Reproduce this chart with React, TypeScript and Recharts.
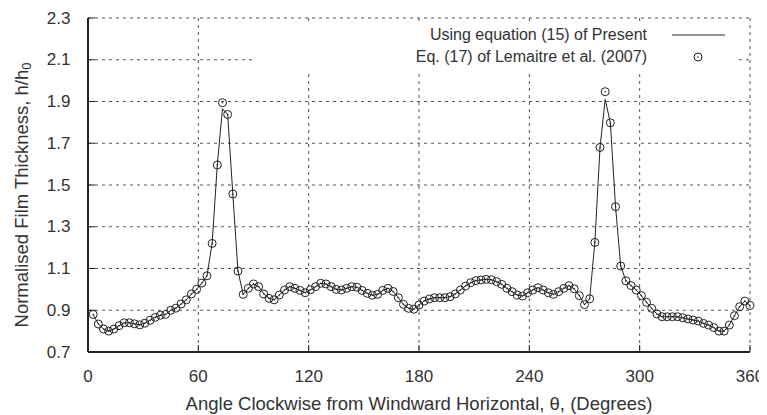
import {
  ComposedChart,
  Line,
  Scatter,
  XAxis,
  YAxis,
  CartesianGrid,
  Legend,
  Label,
} from 'recharts';

// angle positions (degrees) shared by both series
const angles = [
  2.81, 5.63, 8.44, 11.25, 14.06, 16.88, 19.69, 22.5, 25.31, 28.13, 30.94, 33.75, 36.56, 39.38, 42.19, 45,
  47.81, 50.63, 53.44, 56.25, 59.06, 61.88, 64.69, 67.5, 70.31, 73.13, 75.94, 78.75, 81.56, 84.38, 87.19, 90,
  92.81, 95.63, 98.44, 101.25, 104.06, 106.88, 109.69, 112.5, 115.31, 118.13, 120.94, 123.75, 126.56, 129.38, 132.19, 135,
  137.81, 140.63, 143.44, 146.25, 149.06, 151.88, 154.69, 157.5, 160.31, 163.13, 165.94, 168.75, 171.56, 174.38, 177.19, 180,
  182.81, 185.63, 188.44, 191.25, 194.06, 196.88, 199.69, 202.5, 205.31, 208.13, 210.94, 213.75, 216.56, 219.38, 222.19, 225,
  227.81, 230.63, 233.44, 236.25, 239.06, 241.88, 244.69, 247.5, 250.31, 253.13, 255.94, 258.75, 261.56, 264.38, 267.19, 270,
  272.81, 275.63, 278.44, 281.25, 284.06, 286.88, 289.69, 292.5, 295.31, 298.13, 300.94, 303.75, 306.56, 309.38, 312.19, 315,
  317.81, 320.63, 323.44, 326.25, 329.06, 331.88, 334.69, 337.5, 340.31, 343.13, 345.94, 348.75, 351.56, 354.38, 357.19, 360,
];

// Eq. (15), present work (solid line)
const eq15Values = [
  0.88, 0.834, 0.81, 0.8, 0.81, 0.826, 0.84, 0.84, 0.835, 0.83, 0.838, 0.852, 0.866, 0.876, 0.88, 0.9,
  0.91, 0.93, 0.95, 0.978, 1.0, 1.03, 1.065, 1.22, 1.596, 1.865, 1.838, 1.457, 1.088, 0.976, 1.005, 1.026,
  1.013, 0.978, 0.957, 0.95, 0.973, 0.997, 1.013, 1.005, 0.995, 0.984, 0.998, 1.013, 1.029, 1.026, 1.013, 1.0,
  0.997, 1.005, 1.013, 1.01, 0.995, 0.981, 0.972, 0.976, 0.995, 1.005, 0.99, 0.96, 0.928, 0.909, 0.905, 0.925,
  0.944, 0.954, 0.96, 0.96, 0.96, 0.965, 0.978, 0.997, 1.016, 1.032, 1.042, 1.045, 1.048, 1.046, 1.037, 1.024,
  1.005, 0.989, 0.973, 0.968, 0.984, 0.997, 1.008, 0.997, 0.984, 0.976, 0.989, 1.005, 1.018, 1.003, 0.97, 0.927,
  0.955, 1.225, 1.68, 1.91, 1.798, 1.396, 1.112, 1.041, 1.018, 0.997, 0.97, 0.938, 0.909, 0.882, 0.869, 0.869,
  0.869, 0.869, 0.864, 0.858, 0.853, 0.848, 0.837, 0.829, 0.817, 0.8, 0.8, 0.829, 0.874, 0.917, 0.944, 0.923,
];

// Eq. (17), Lemaitre et al. (2007) (circles)
const eq17Values = [
  0.88, 0.834, 0.81, 0.8, 0.81, 0.826, 0.84, 0.84, 0.835, 0.83, 0.838, 0.852, 0.866, 0.876, 0.88, 0.9,
  0.91, 0.93, 0.95, 0.978, 1.0, 1.03, 1.065, 1.22, 1.596, 1.894, 1.838, 1.457, 1.088, 0.976, 1.005, 1.026,
  1.013, 0.978, 0.957, 0.95, 0.973, 0.997, 1.013, 1.005, 0.995, 0.984, 0.998, 1.013, 1.029, 1.026, 1.013, 1.0,
  0.997, 1.005, 1.013, 1.01, 0.995, 0.981, 0.972, 0.976, 0.995, 1.005, 0.99, 0.96, 0.928, 0.909, 0.905, 0.925,
  0.944, 0.954, 0.96, 0.96, 0.96, 0.965, 0.978, 0.997, 1.016, 1.032, 1.042, 1.045, 1.048, 1.046, 1.037, 1.024,
  1.005, 0.989, 0.973, 0.968, 0.984, 0.997, 1.008, 0.997, 0.984, 0.976, 0.989, 1.005, 1.018, 1.003, 0.97, 0.927,
  0.955, 1.225, 1.68, 1.947, 1.798, 1.396, 1.112, 1.041, 1.018, 0.997, 0.97, 0.938, 0.909, 0.882, 0.869, 0.869,
  0.869, 0.869, 0.864, 0.858, 0.853, 0.848, 0.837, 0.829, 0.817, 0.8, 0.8, 0.829, 0.874, 0.917, 0.944, 0.923,
];

const xTicks = [0, 60, 120, 180, 240, 300, 360];
const yTicks = [0.7, 0.9, 1.1, 1.3, 1.5, 1.7, 1.9, 2.1, 2.3];

const xTitle = 'Angle Clockwise from Windward Horizontal, \u03b8, (Degrees)';
const yTitle = 'Normalised Film Thickness, h/h';
const seriesNames = ['Using equation (15) of Present', 'Eq. (17) of Lemaitre et al. (2007)'];

const lineData = angles.map((angle, i) => ({ angle, h: eq15Values[i] }));
const pointData = angles.map((angle, i) => ({ angle, h: eq17Values[i] }));

const FONT = '"Liberation Sans", Arial, Helvetica, sans-serif';
const INK = '#222';
const TEXT = '#333';
const TICK_LEN = 7;

function LeftTick({ x, y, payload }: any) {
  const gap = 18;
  return (
    <g>
      <line x1={x + gap} x2={x + gap + TICK_LEN} y1={y} y2={y} stroke={INK} />
      <text x={x + 0.5} y={y} textAnchor="end" dominantBaseline="central" fontSize={17} fontFamily={FONT} fill={TEXT}>
        {Number(payload.value).toFixed(1)}
      </text>
    </g>
  );
}

function BottomTick({ x, y, payload }: any) {
  const gap = 24;
  return (
    <g>
      <line x1={x} x2={x} y1={y - gap} y2={y - gap - TICK_LEN} stroke={INK} />
      <text x={x} y={y} textAnchor="middle" dominantBaseline="central" fontSize={17} fontFamily={FONT} fill={TEXT}>
        {payload.value}
      </text>
    </g>
  );
}

function TopTick({ x, y }: any) {
  return <line x1={x} x2={x} y1={y} y2={y + TICK_LEN} stroke={INK} />;
}

function RightTick({ x, y }: any) {
  return <line x1={x} x2={x - TICK_LEN} y1={y} y2={y} stroke={INK} />;
}

function XTitle({ viewBox }: any) {
  const { x, y, width } = viewBox;
  return (
    <text x={x + width / 2} y={y + 51} textAnchor="middle" dominantBaseline="central" fontSize={18.5} fontFamily={FONT} fill={TEXT}>
      {xTitle}
    </text>
  );
}

function YTitle({ viewBox }: any) {
  const { x, y, height } = viewBox;
  const cx = x + 13;
  const cy = y + height / 2 + 10;
  return (
    <text
      transform={`translate(${cx}, ${cy}) rotate(-90)`}
      textAnchor="middle"
      dominantBaseline="central"
      fontSize={18.5}
      fontFamily={FONT}
      fill={TEXT}
    >
      {yTitle}
      <tspan dy={5} fontSize={13}>0</tspan>
    </text>
  );
}

function Ring(props: any) {
  const { cx, cy } = props;
  if (cx == null || cy == null) return null;
  return (
    <g>
      <circle cx={cx} cy={cy} r={4} fill="none" stroke={INK} strokeWidth={1} />
      <circle cx={cx} cy={cy} r={0.8} fill={INK} />
    </g>
  );
}

function LegendBox() {
  const textRight = 395;
  return (
    <div style={{ position: 'relative', width: 486, height: 50, background: '#fff', fontFamily: FONT, fontSize: 16, color: TEXT }}>
      {seriesNames.map((name, i) => (
        <div
          key={name}
          style={{ position: 'absolute', right: 486 - textRight, top: 3 + i * 22, lineHeight: '20px', whiteSpace: 'nowrap' }}
        >
          {name}
        </div>
      ))}
      <svg width={486} height={50} style={{ position: 'absolute', left: 0, top: 0 }}>
        <line x1={420} x2={473} y1={13} y2={13} stroke={INK} strokeWidth={1} />
        <Ring cx={446} cy={35} />
      </svg>
    </div>
  );
}

export default function App() {
  return (
    <ComposedChart
      width={759}
      height={407}
      data={lineData}
      margin={{ top: 10, right: 17, left: 0, bottom: 0 }}
      style={{ overflow: 'visible' }}
    >
      <CartesianGrid stroke="#555" strokeDasharray="3 4" />
      <XAxis
        dataKey="angle"
        type="number"
        domain={[0, 360]}
        ticks={xTicks}
        interval={0}
        height={63}
        tickSize={0}
        tickMargin={24}
        tickLine={false}
        axisLine={{ stroke: INK, strokeWidth: 2 }}
        tick={<BottomTick />}
      >
        <Label content={<XTitle />} />
      </XAxis>
      <XAxis
        xAxisId="top"
        orientation="top"
        type="number"
        domain={[0, 360]}
        ticks={xTicks}
        interval={0}
        height={0}
        tickSize={0}
        tickMargin={0}
        tickLine={false}
        axisLine={{ stroke: INK, strokeWidth: 2 }}
        tick={<TopTick />}
      />
      <YAxis
        type="number"
        domain={[0.7, 2.3]}
        ticks={yTicks}
        interval={0}
        width={80}
        tickSize={0}
        tickMargin={18}
        tickLine={false}
        axisLine={{ stroke: INK, strokeWidth: 2 }}
        tick={<LeftTick />}
        allowDataOverflow
      >
        <Label content={<YTitle />} />
      </YAxis>
      <YAxis
        yAxisId="right"
        orientation="right"
        type="number"
        domain={[0.7, 2.3]}
        ticks={yTicks}
        interval={0}
        width={0}
        tickSize={0}
        tickMargin={0}
        tickLine={false}
        axisLine={{ stroke: INK, strokeWidth: 2 }}
        tick={<RightTick />}
      />
      <Legend
        layout="horizontal"
        verticalAlign="middle"
        align="center"
        wrapperStyle={{ top: 14, left: 244, width: 486, height: 50 }}
        content={<LegendBox />}
      />
      <Line
        dataKey="h"
        name={seriesNames[0]}
        type="linear"
        stroke={INK}
        strokeWidth={1}
        dot={false}
        activeDot={false}
        isAnimationActive={false}
      />
      <Scatter
        data={pointData}
        dataKey="h"
        name={seriesNames[1]}
        shape={<Ring />}
        isAnimationActive={false}
      />
    </ComposedChart>
  );
}
